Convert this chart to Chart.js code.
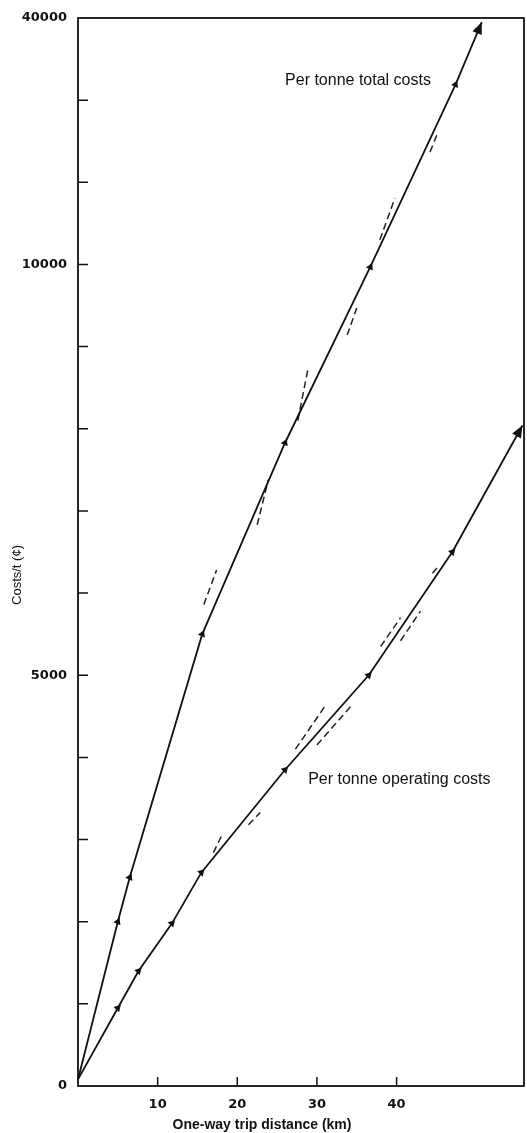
<!DOCTYPE HTML><html><head>
<meta name="viewport" content="width=device-width, initial-scale=1">
<style>
    html, body {
      margin: 0px;
      padding: 0px;
      background: #fff;
    }
    #wrap {
      width: 527px;
      height: 1133px;
      position: relative;
    }
</style>
</head>
<body>
<div id="wrap"><canvas id="myChart" width="527" height="1133"></canvas></div>
<script src="https://cdn.jsdelivr.net/npm/chart.js@4/dist/chart.umd.min.js"></script>
<script>
// values (km, cents per tonne)
var totalKm    = [0, 5, 6.5, 15.6, 26, 36.7, 47.4, 50.7];
var totalCost  = [80, 2000, 2540, 5500, 7830, 9970, 12190, 12950];
var operKm     = [0, 5, 7.6, 11.8, 15.5, 26, 36.5, 47, 55.8];
var operCost   = [80, 950, 1400, 1980, 2600, 3850, 5000, 6500, 8040];

// short dashed tangents drawn beside the curves: [km1, cost1, km2, cost2]
var totalDashes = [
  [15.8, 5860, 17.4, 6280],
  [22.5, 6830, 23.9, 7380],
  [27.6, 8100, 28.9, 8740],
  [33.8, 9140, 35.0, 9470],
  [37.9, 10300, 39.8, 10810],
  [44.2, 11370, 45.2, 11610]
];
var operDashes = [
  [17.0, 2840, 18.2, 3080],
  [21.4, 3180, 22.9, 3330],
  [27.3, 4100, 31.2, 4650],
  [30.0, 4150, 34.5, 4650],
  [38.0, 5350, 40.5, 5700],
  [40.5, 5420, 43.0, 5780],
  [44.5, 6240, 45.3, 6330]
];

var xTickValues = [10, 20, 30, 40];
var yTickValues = [0, 5000, 10000, 13000];
var yTickText   = ['0', '5000', '10000', '40000'];

var curveLabels = [
  {text: 'Per tonne total costs', km: 26.0, cost: 12240},
  {text: 'Per tonne operating costs', km: 28.9, cost: 3725}
];

function pts(xs, ys) {
  return xs.map(function(x, i) { return {x: x, y: ys[i]}; });
}

function markerRadius(ctx) {
  var n = ctx.dataset.data.length;
  return (ctx.dataIndex == 0 || ctx.dataIndex == n - 1) ? 0 : 2.6;
}

var datasets = [
  {
    label: 'total', data: pts(totalKm, totalCost), arrow: true,
    borderColor: '#111', backgroundColor: '#111', borderWidth: 1.8,
    pointStyle: 'triangle', pointRadius: markerRadius, pointRotation: 24,
    tension: 0, clip: false
  },
  {
    label: 'operating', data: pts(operKm, operCost), arrow: true,
    borderColor: '#111', backgroundColor: '#111', borderWidth: 1.8,
    pointStyle: 'triangle', pointRadius: markerRadius, pointRotation: 44,
    tension: 0, clip: false
  }
];
totalDashes.concat(operDashes).forEach(function(d) {
  datasets.push({
    data: [{x: d[0], y: d[1]}, {x: d[2], y: d[3]}],
    borderColor: '#222', borderWidth: 1.5, borderDash: [7, 4],
    pointRadius: 0, clip: false
  });
});

// frame, inward tick marks, arrow heads and texts
var decor = {
  id: 'decor',
  afterDatasetsDraw: function(chart) {
    var c = chart.ctx, a = chart.chartArea;
    var xs = chart.scales.x, ys = chart.scales.y;
    c.save();
    c.strokeStyle = '#111';
    c.lineWidth = 1.8;
    c.strokeRect(a.left, a.top, a.right - a.left, a.bottom - a.top);

    c.lineWidth = 1.5;
    c.beginPath();
    for (var v = 1000; v < 13000; v += 1000) {
      var py = ys.getPixelForValue(v);
      c.moveTo(a.left, py);
      c.lineTo(a.left + 10, py);
    }
    xTickValues.forEach(function(v) {
      var px = xs.getPixelForValue(v);
      c.moveTo(px, a.bottom);
      c.lineTo(px, a.bottom - 9);
    });
    c.stroke();

    // arrow heads at the end of each curve
    chart.data.datasets.forEach(function(ds, i) {
      if (!ds.arrow) return;
      var meta = chart.getDatasetMeta(i).data;
      var p1 = meta[meta.length - 2], p2 = meta[meta.length - 1];
      var ang = Math.atan2(p2.y - p1.y, p2.x - p1.x);
      c.save();
      c.translate(p2.x, p2.y);
      c.rotate(ang);
      c.fillStyle = '#111';
      c.beginPath();
      c.moveTo(0, 0);
      c.lineTo(-12, -5);
      c.lineTo(-12, 5);
      c.closePath();
      c.fill();
      c.restore();
    });

    c.fillStyle = '#111';
    c.font = '16px "Liberation Sans", Arial';
    c.textBaseline = 'middle';
    curveLabels.forEach(function(l) {
      c.fillText(l.text, xs.getPixelForValue(l.km), ys.getPixelForValue(l.cost));
    });

    c.font = 'bold 14px "Liberation Sans", Arial';
    c.textAlign = 'center';
    c.fillText('One-way trip distance (km)', 262, 1125);

    c.font = '13px "Liberation Sans", Arial';
    c.translate(17, 575);
    c.rotate(-Math.PI / 2);
    c.fillText('Costs/t (\u00a2)', 0, 0);
    c.restore();
  }
};

var ctx = document.getElementById('myChart');
var myChart = new Chart(ctx, {
    type: 'line',
    data: { datasets: datasets },
    options: {
        responsive: false,
        animation: false,
        events: [],
        layout: { padding: { top: 18, right: 3, left: 0, bottom: 0 } },
        plugins: { legend: { display: false }, tooltip: { enabled: false } },
        scales: {
            x: {
                type: 'linear', min: 0, max: 56,
                grid: { display: false },
                border: { display: false },
                afterFit: function(s) { s.height = 47; },
                ticks: {
                    stepSize: 10, autoSkip: false, padding: 3,
                    color: '#111',
                    font: { family: '"DejaVu Sans"', size: 13, weight: 'bold' },
                    callback: function(v) { return xTickValues.indexOf(v) >= 0 ? String(v) : ''; }
                }
            },
            y: {
                type: 'linear', min: 0, max: 13000,
                grid: { display: false },
                border: { display: false },
                afterFit: function(s) { s.width = 78; },
                ticks: {
                    stepSize: 1000, autoSkip: false, padding: 3,
                    color: '#111',
                    font: { family: '"DejaVu Sans"', size: 13, weight: 'bold' },
                    callback: function(v) {
                        var i = yTickValues.indexOf(v);
                        return i >= 0 ? yTickText[i] : '';
                    }
                }
            }
        }
    },
    plugins: [decor]
});
</script>
</body></html>
